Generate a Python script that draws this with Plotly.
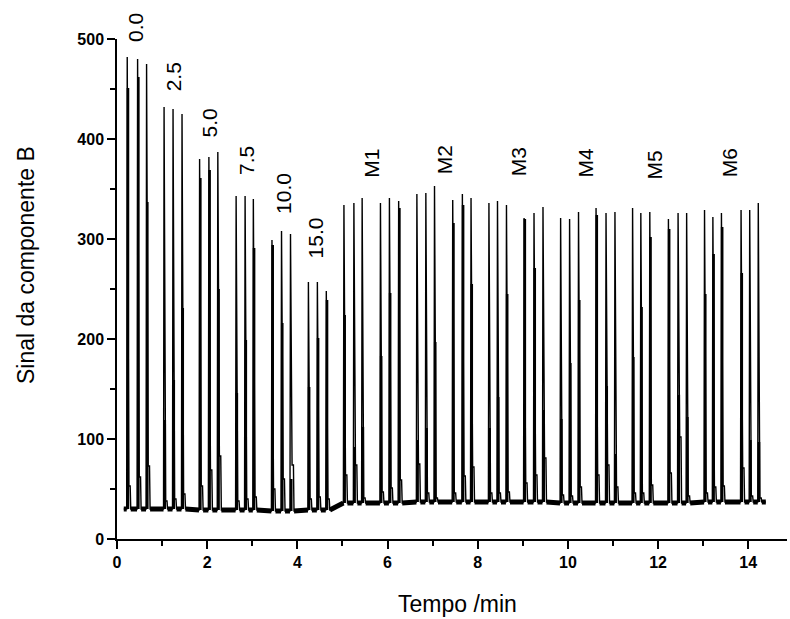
import plotly.graph_objects as go

# ---------------- data ----------------
group_labels = ["0.0", "2.5", "5.0", "7.5", "10.0", "15.0", "M1", "M2", "M3", "M4", "M5", "M6"]
label_time = [0.40, 1.25, 2.05, 2.86, 3.68, 4.40, 5.63, 7.26, 8.90, 10.37, 11.92, 13.58]
label_signal = [511, 462, 416, 379, 346, 301, 376, 379, 377, 376, 374, 376]

group_sizes = [3, 3, 3, 3, 3, 3, 6, 6, 6, 6, 6, 6]
group_baseline = [30, 30, 29, 29, 28, 29, 36, 37, 37, 36, 36, 37]

peak_time = [
    0.227, 0.457, 0.656,
    1.044, 1.243, 1.442,
    1.832, 2.038, 2.236,
    2.642, 2.841, 3.024,
    3.437, 3.649, 3.848,
    4.245, 4.444, 4.642,
    5.033, 5.254, 5.437, 5.843, 6.042, 6.247,
    6.651, 6.850, 7.042, 7.446, 7.660, 7.852,
    8.249, 8.439, 8.638, 9.029, 9.249, 9.448,
    9.839, 10.038, 10.236, 10.625, 10.846, 11.044,
    11.435, 11.618, 11.817, 12.230, 12.444, 12.634,
    13.031, 13.216, 13.406, 13.841, 14.033, 14.223,
]
peak_height = [
    482, 480, 475,
    432, 430, 425,
    380, 382, 387,
    343, 343, 340,
    299, 308, 305,
    257, 257, 248,
    334, 336, 341, 336, 341, 338,
    345, 346, 353, 339, 345, 341,
    336, 338, 334, 321, 326, 332,
    321, 320, 327, 331, 326, 327,
    331, 326, 327, 320, 326, 326,
    329, 322, 326, 329, 329, 336,
]
# level up to which the rising edge looks thick/black
peak_mid = [
    451, 462, 337,
    119, 159, 231,
    361, 369, 250,
    146, 199, 291,
    294, 216, 60,
    152, 201, 239,
    224, 92, 112, 183, 246, 331,
    99, 111, 197, 316, 334, 255,
    111, 142, 245, 320, 271, 129,
    120, 176, 239, 324, 153, 85,
    182, 232, 302, 310, 144, 122,
    245, 285, 312, 266, 99, 97,
]
# small satellite peak on the tail
peak_shoulder = [
    53, 62, 73,
    38, 40, 45,
    53, 69, 83,
    38, 40, 42,
    50, 60, 74,
    40, 42, 40,
    64, 74, 41, 47, 51, 59,
    75, 46, 41, 46, 63, 72,
    46, 46, 47, 56, 64, 81,
    44, 43, 52, 64, 74, 52,
    46, 46, 54, 66, 102, 43,
    46, 52, 53, 71, 43, 41,
]
trace_start = 0.15
trace_end = 14.39

# ---------------- build the trace ----------------
base = []
for g, n in enumerate(group_sizes):
    base += [group_baseline[g]] * n

xs, ys = [trace_start], [base[0]]
tx, ty = [], []
bx, by = [trace_start, peak_time[0] - 0.012, None], [base[0], base[0], None]
n_peaks = len(peak_time)
for i in range(n_peaks):
    t, h, m, s, b = peak_time[i], peak_height[i], peak_mid[i], peak_shoulder[i], base[i]
    xs += [t - 0.012, t, t + 0.035, t + 0.065, t + 0.078]
    ys += [b, h, s, s, b]
    tx += [t + 0.016, t + 0.016, None]
    ty += [b, m, None]
    if i + 1 < n_peaks:
        nt, nb = peak_time[i + 1] - 0.012, base[i + 1]
    else:
        nt, nb = trace_end, b
    bx += [t + 0.078, nt, None]
    by += [b, nb, None]
xs += [trace_end]
ys += [base[-1]]

fig = go.Figure()
fig.add_trace(go.Scatter(x=bx, y=by, mode="lines",
                         line=dict(color="black", width=5), hoverinfo="skip", showlegend=False))
fig.add_trace(go.Scatter(x=tx, y=ty, mode="lines",
                         line=dict(color="black", width=2.6), hoverinfo="skip", showlegend=False))
fig.add_trace(go.Scatter(x=xs, y=ys, mode="lines",
                         line=dict(color="black", width=1.4), showlegend=False))

font_family = "Arial, Liberation Sans, sans-serif"

for lab, t, v in zip(group_labels, label_time, label_signal):
    yv = min(v, 500)
    fig.add_annotation(x=t, y=yv, yshift=(v - yv), text=lab, textangle=-90, showarrow=False,
                       xanchor="center", yanchor="middle",
                       font=dict(family=font_family, size=21, color="black"))

fig.add_annotation(xref="paper", x=0, xshift=-91, yref="y", y=274,
                   text="Sinal da componente B", textangle=-90, showarrow=False,
                   xanchor="center", yanchor="middle",
                   font=dict(family=font_family, size=23, color="black"))
fig.add_annotation(xref="x", x=7.55, yref="paper", y=0, yshift=-65,
                   text="Tempo /min", showarrow=False,
                   xanchor="center", yanchor="middle",
                   font=dict(family=font_family, size=23, color="black"))

axis_common = dict(
    showgrid=False, zeroline=False, showline=True, linecolor="black", linewidth=1.5,
    ticks="outside", ticklen=8, tickwidth=1.5, tickcolor="black",
    tickfont=dict(family=font_family, size=16, color="black", weight="bold"),
)
fig.update_xaxes(range=[0, 14.86], tickmode="array", tickvals=[0, 2, 4, 6, 8, 10, 12, 14],
                 minor=dict(dtick=1, tick0=0, ticks="outside", ticklen=5, tickwidth=1.5,
                            tickcolor="black", showgrid=False),
                 **axis_common)
fig.update_yaxes(range=[0, 500], tickmode="array", tickvals=[0, 100, 200, 300, 400, 500],
                 minor=dict(dtick=50, tick0=0, ticks="outside", ticklen=5, tickwidth=1.5,
                            tickcolor="black", showgrid=False),
                 **axis_common)

fig.update_layout(
    width=790, height=619,
    margin=dict(l=117, r=3, t=39, b=80, autoexpand=False),
    paper_bgcolor="white", plot_bgcolor="white",
    font=dict(family=font_family, color="black"),
)

fig.write_html("out.html")
